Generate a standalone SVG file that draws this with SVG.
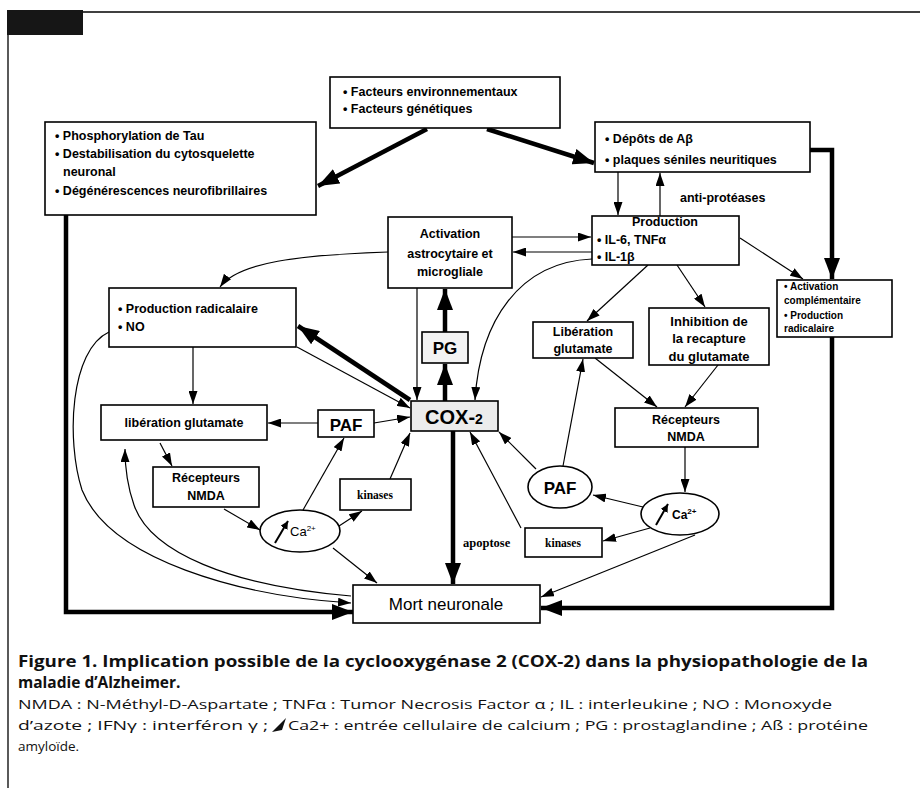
<svg xmlns="http://www.w3.org/2000/svg" width="920" height="788" viewBox="0 0 920 788">
<style>
.box{fill:#fff;stroke:#000;stroke-width:1.6}
.t{font-family:"Liberation Sans",Arial,sans-serif;font-weight:bold;font-size:12.5px;fill:#000}
.c{text-anchor:middle}
.k{font-family:"Liberation Serif","Times New Roman",serif;font-weight:bold;font-size:11.5px;fill:#000}
.th{fill:none;stroke:#000;stroke-width:4.5}
.tn{fill:none;stroke:#000;stroke-width:1.2}
.cap{font-family:"Open Sans","Noto Sans",sans-serif;fill:#111}
</style>
<defs>
<marker id="a" markerUnits="userSpaceOnUse" markerWidth="14" markerHeight="9" refX="13" refY="4.5" orient="auto"><path d="M0,0 L13,4.5 L0,9 Z" fill="#000"/></marker>
<marker id="A" markerUnits="userSpaceOnUse" markerWidth="22" markerHeight="16" refX="21" refY="8" orient="auto"><path d="M0,0 L21,8 L0,16 Z" fill="#000"/></marker>
<marker id="s" markerUnits="userSpaceOnUse" markerWidth="9" markerHeight="8" refX="8" refY="4" orient="auto"><path d="M0,0 L8,4 L0,8 Z" fill="#000"/></marker>
</defs>

<!-- frame -->
<rect x="7" y="10" width="76" height="25" fill="#161616"/>
<line x1="83" y1="12" x2="920" y2="12" stroke="#000" stroke-width="1.3"/>
<line x1="8" y1="35" x2="8" y2="788" stroke="#000" stroke-width="1.3"/>

<g id="connectors">
<!-- thick -->
<path class="th" d="M427,129 L318,186" marker-end="url(#A)"/>
<path class="th" d="M487,129 L594,163" marker-end="url(#A)"/>
<path class="th" d="M810,150 H832 V279" marker-end="url(#A)"/>
<path class="th" d="M832,337 V608 H541" marker-end="url(#A)"/>
<path class="th" d="M66,215 V612 H353" marker-end="url(#A)"/>
<path class="th" d="M445,401 V364" marker-end="url(#A)"/>
<path class="th" d="M445,332 V289" marker-end="url(#A)"/>
<path class="th" d="M410,400 L298,326" marker-end="url(#A)"/>
<path class="th" d="M453,431 V584" marker-end="url(#A)"/>
<!-- thin -->
<path class="tn" d="M618,172 V215" marker-end="url(#a)"/>
<path class="tn" d="M660,216 V173" marker-end="url(#a)"/>
<path class="tn" d="M512,237 H591" marker-end="url(#a)"/>
<path class="tn" d="M592,252 H513" marker-end="url(#a)"/>
<path class="tn" d="M388,252 C300,255 238,262 220,287" marker-end="url(#a)"/>
<path class="tn" d="M592,259 C520,262 480,320 475,400" marker-end="url(#a)"/>
<path class="tn" d="M740,238 L803,279" marker-end="url(#a)"/>
<path class="tn" d="M648,265 L587,321" marker-end="url(#a)"/>
<path class="tn" d="M677,265 L705,307" marker-end="url(#a)"/>
<path class="tn" d="M595,358 L657,407" marker-end="url(#a)"/>
<path class="tn" d="M718,365 L685,407" marker-end="url(#a)"/>
<path class="tn" d="M685,447 V492" marker-end="url(#a)"/>
<path class="tn" d="M643,507 L593,495" marker-end="url(#a)"/>
<path class="tn" d="M650,528 L603,541" marker-end="url(#a)"/>
<path class="tn" d="M695,535 L541,597" marker-end="url(#a)"/>
<path class="tn" d="M521,528 L470,432" marker-end="url(#a)"/>
<path class="tn" d="M536,469 L499,432" marker-end="url(#a)"/>
<path class="tn" d="M563,466 L583,359" marker-end="url(#a)"/>
<path class="tn" d="M417,288 V400" marker-end="url(#a)"/>
<path class="tn" d="M297,347 L410,408" marker-end="url(#a)"/>
<path class="tn" d="M374,423 L410,417" marker-end="url(#a)"/>
<path class="tn" d="M318,423 H268" marker-end="url(#a)"/>
<path class="tn" d="M193,347 V404" marker-end="url(#a)"/>
<path class="tn" d="M160,443 L172,466" marker-end="url(#a)"/>
<path class="tn" d="M224,509 L260,530" marker-end="url(#a)"/>
<path class="tn" d="M303,510 L344,438" marker-end="url(#a)"/>
<path class="tn" d="M339,526 L362,511" marker-end="url(#a)"/>
<path class="tn" d="M390,479 L410,433" marker-end="url(#a)"/>
<path class="tn" d="M333,548 L377,583" marker-end="url(#a)"/>
<path class="tn" d="M109,332 C70,350 66,440 82,490 C110,560 240,596 351,603" marker-end="url(#a)"/>
<path class="tn" d="M351,596 C230,586 150,552 134,505 C127,485 125,468 125,449" marker-end="url(#a)"/>
</g>

<g id="facteurs">
<rect class="box" x="330" y="77" width="230" height="51"/>
<text class="t" x="343" y="96">• Facteurs environnementaux</text>
<text class="t" x="343" y="113">• Facteurs génétiques</text>
</g>

<g id="tau">
<rect class="box" x="45" y="122" width="271" height="93"/>
<text class="t" x="55" y="140">• Phosphorylation de Tau</text>
<text class="t" x="55" y="158">• Destabilisation du cytosquelette</text>
<text class="t" x="63" y="176">neuronal</text>
<text class="t" x="55" y="195">• Dégénérescences neurofibrillaires</text>
</g>

<g id="depots">
<rect class="box" x="595" y="122" width="215" height="50"/>
<text class="t" x="605" y="143">• Dépôts de Aβ</text>
<text class="t" x="605" y="164">• plaques séniles neuritiques</text>
</g>

<text id="antiproteases" class="t" x="680" y="202">anti-protéases</text>

<g id="production-il">
<rect class="box" x="592" y="216" width="147" height="49"/>
<text class="t c" x="665" y="226">Production</text>
<text class="t" x="597" y="244">• IL-6, TNFα</text>
<text class="t" x="597" y="261">• IL-1β</text>
</g>

<g id="activation-astro">
<rect class="box" x="388" y="217" width="124" height="71"/>
<text class="t c" x="450" y="238">Activation</text>
<text class="t c" x="450" y="258">astrocytaire et</text>
<text class="t c" x="450" y="276">microgliale</text>
</g>

<g id="activation-compl">
<rect class="box" x="777" y="280" width="115" height="57"/>
<text class="t" x="784" y="290" style="font-size:10px">• Activation</text>
<text class="t" x="784" y="304" style="font-size:10px">complémentaire</text>
<text class="t" x="784" y="319" style="font-size:10px">• Production</text>
<text class="t" x="784" y="332" style="font-size:10px">radicalaire</text>
</g>

<g id="production-radicalaire">
<rect class="box" x="109" y="288" width="187" height="59"/>
<text class="t" x="118" y="313">• Production radicalaire</text>
<text class="t" x="118" y="331">• NO</text>
</g>

<g id="pg">
<rect class="box" x="422" y="332" width="46" height="31" style="fill:#f3f3f3"/>
<text class="t c" x="445" y="354" style="font-size:17px">PG</text>
</g>

<g id="cox2">
<rect class="box" x="411" y="401" width="87" height="30" style="fill:#ececec"/>
<text class="t c" x="454" y="424" style="font-size:20px">COX-<tspan style="font-size:14px">2</tspan></text>
</g>

<g id="liberation-gauche">
<rect class="box" x="101" y="405" width="166" height="35"/>
<text class="t c" x="184" y="427">libération glutamate</text>
</g>

<g id="paf-gauche">
<rect class="box" x="318" y="410" width="56" height="27"/>
<text class="t c" x="346" y="431" style="font-size:17px">PAF</text>
</g>

<g id="recepteurs-gauche">
<rect class="box" x="153" y="467" width="106" height="40"/>
<text class="t c" x="206" y="482">Récepteurs</text>
<text class="t c" x="206" y="500">NMDA</text>
</g>

<g id="ca-gauche">
<ellipse class="box" cx="300" cy="531" rx="40" ry="21"/>
<line x1="275" y1="543" x2="288" y2="521" stroke="#000" stroke-width="2" marker-end="url(#s)"/>
<text class="t" x="290" y="536" style="font-weight:normal;font-size:13px">Ca<tspan dy="-5" style="font-size:8px">2+</tspan></text>
</g>

<g id="kinases-gauche">
<rect class="box" x="340" y="479" width="71" height="31"/>
<text class="k c" x="375" y="499">kinases</text>
</g>

<g id="mort">
<rect class="box" x="353" y="585" width="187" height="38"/>
<text class="t c" x="446" y="610" style="font-weight:normal;font-size:17px">Mort neuronale</text>
</g>

<text id="apoptose" class="k" x="463" y="547" style="font-size:12.5px">apoptose</text>

<g id="kinases-droite">
<rect class="box" x="525" y="528" width="77" height="29"/>
<text class="k c" x="563" y="547">kinases</text>
</g>

<g id="paf-droite">
<ellipse class="box" cx="560" cy="487" rx="32" ry="21"/>
<text class="t c" x="560" y="494" style="font-size:17px">PAF</text>
</g>

<g id="ca-droite">
<ellipse class="box" cx="680" cy="514" rx="39" ry="21"/>
<line x1="656" y1="525" x2="668" y2="504" stroke="#000" stroke-width="2" marker-end="url(#s)"/>
<text class="t" x="672" y="519" style="font-size:12px">Ca<tspan dy="-5" style="font-size:8px">2+</tspan></text>
</g>

<g id="liberation-droite">
<rect class="box" x="533" y="322" width="100" height="36"/>
<text class="t c" x="583" y="336">Libération</text>
<text class="t c" x="583" y="353">glutamate</text>
</g>

<g id="inhibition">
<rect class="box" x="649" y="308" width="120" height="57"/>
<text class="t c" x="709" y="326" style="font-size:13px">Inhibition de</text>
<text class="t c" x="709" y="343" style="font-size:13px">la recapture</text>
<text class="t c" x="709" y="361" style="font-size:13px">du glutamate</text>
</g>

<g id="recepteurs-droite">
<rect class="box" x="615" y="408" width="143" height="39"/>
<text class="t c" x="686" y="424">Récepteurs</text>
<text class="t c" x="686" y="441">NMDA</text>
</g>

<g id="caption">
<text class="cap" x="18" y="667" textLength="850" lengthAdjust="spacingAndGlyphs" style="font-weight:bold;font-size:15.5px">Figure 1. Implication possible de la cyclooxygénase 2 (COX-2) dans la physiopathologie de la</text>
<text class="cap" x="18" y="688" style="font-weight:bold;font-size:15.5px">maladie d’Alzheimer.</text>
<text class="cap" x="18" y="709" textLength="814" lengthAdjust="spacingAndGlyphs" style="font-size:13.5px">NMDA : N-Méthyl-D-Aspartate ; TNFα : Tumor Necrosis Factor α ; IL : interleukine ; NO : Monoxyde</text>
<text class="cap" x="18" y="730" textLength="250" lengthAdjust="spacingAndGlyphs" style="font-size:13.5px">d’azote ; IFNγ : interféron γ ;</text>
<path d="M272,732 L286,718 L282,730 Z" fill="#111"/>
<text class="cap" x="288" y="730" textLength="580" lengthAdjust="spacingAndGlyphs" style="font-size:13.5px">Ca2+ : entrée cellulaire de calcium ; PG : prostaglandine ; Aß : protéine</text>
<text class="cap" x="18" y="751" style="font-size:13.5px">amyloïde.</text>
</g>
</svg>
